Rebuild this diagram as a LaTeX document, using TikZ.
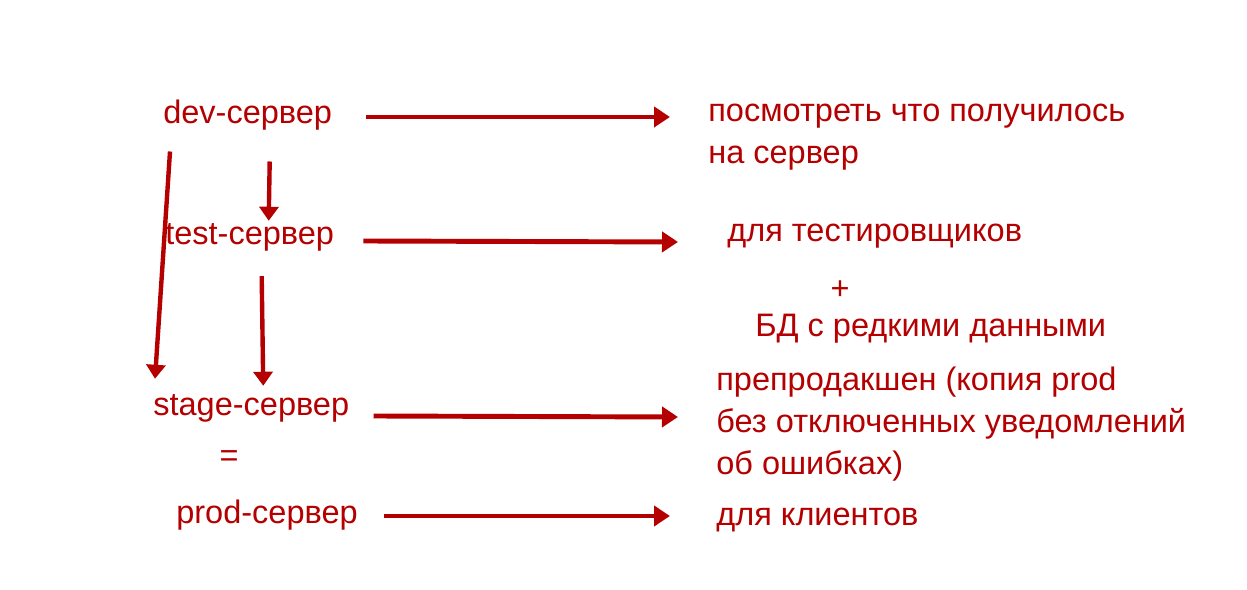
\documentclass[tikz,border=0pt]{standalone}
\usepackage{fontspec}
\setmainfont{Liberation Sans}
\usetikzlibrary{positioning, arrows.meta, calc}
\definecolor{darkredcustom}{RGB}{180,0,0}

\begin{document}
\begin{tikzpicture}[x=0.02cm, y=-0.02cm,
  every node/.style={font=\fontsize{18.5}{24}\selectfont, text=darkredcustom, inner sep=0pt},
  flow/.style={draw=darkredcustom, line width=2.8pt, -{Triangle[length=0.32cm, width=0.40cm]}},
  down/.style={draw=darkredcustom, line width=2.5pt, -{Triangle[length=0.28cm, width=0.38cm]}}]
 \useasboundingbox (0,0) rectangle (1247,590);
 \node[anchor=west] (dev) at (163,115) {dev-сервер};
 \node[anchor=west] (test) at (165,237) {test-сервер};
 \node[anchor=west] (stage) at (153,408) {stage-сервер};
 \node (eq) at (229,459) {=};
 \node[anchor=west] (prod) at (176,515) {prod-сервер};
 \node[anchor=west, align=left] (look) at (708,137) {посмотреть что получилось\\на сервер};
 \node[anchor=west] (testers) at (727,236) {для тестировщиков};
 \node (plus) at (840,290) {+};
 \node[anchor=west] (rare) at (755,329) {БД с редкими данными};
 \node[anchor=west, align=left] (preprod) at (716,424) {препродакшен (копия prod\\без отключенных уведомлений\\об ошибках)};
 \node[anchor=west] (clients) at (716,520) {для клиентов};
 \draw[flow] ($(dev.east)+(34,2)$) -- ($(dev.east -| look.west)+(-38,2)$);
 \draw[flow] ($(test.east)+(29,4)$) -- ($(test.east -| testers.west)+(-49,5)$);
 \draw[flow] ($(stage.east)+(24,8)$) -- ($(stage.east -| preprod.west)+(-38,9)$);
 \draw[flow] ($(prod.east)+(26,1)$) -- ($(prod.east -| clients.west)+(-46,1)$);
 \draw[down] ($(dev.south)+(22,31)$) -- ($(test.north)+(19,-2)$);
 \draw[down] ($(dev.south west)+(7,21)$) -- ($(stage.north west)+(2,-15)$);
 \draw[down] ($(test.south)+(12,25)$) -- ($(stage.north)+(12,-8)$);
\end{tikzpicture}
\end{document}
